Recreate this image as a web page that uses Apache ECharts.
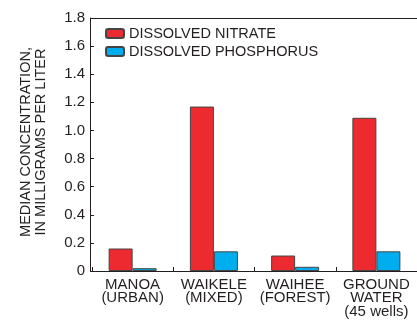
<!DOCTYPE html>
<html><head><meta charset="utf-8">
<script src="https://cdn.jsdelivr.net/npm/echarts@6/dist/echarts.min.js"></script>
<style>html,body{margin:0;padding:0;background:#fff}#c{width:417px;height:320px}</style>
</head><body><div id="c"></div>
<script>
var categories = ['MANOA\n(URBAN)', 'WAIKELE\n(MIXED)', 'WAIHEE\n(FOREST)', 'GROUND\nWATER\n(45 wells)'];
var nitrate = [0.16, 1.17, 0.11, 1.09];
var phosphorus = [0.02, 0.14, 0.03, 0.14];
var seriesNames = ['DISSOLVED NITRATE', 'DISSOLVED PHOSPHORUS'];
var yTicks = [0, 0.2, 0.4, 0.6, 0.8, 1.0, 1.2, 1.4, 1.6, 1.8];

var FONT = '"Liberation Sans", Arial, Helvetica, sans-serif';
var TXT = '#231f20';
var chart = echarts.init(document.getElementById('c'), null, {renderer: 'canvas'});
chart.setOption({
  backgroundColor: '#fff',
  animation: false,
  textStyle: {fontFamily: FONT},
  grid: {left: 92, right: -8, top: 18, bottom: 49},
  legend: {
    orient: 'vertical', left: 105, top: 26, padding: 0,
    itemWidth: 18, itemHeight: 9, itemGap: 3,
    textStyle: {fontFamily: FONT, fontSize: 14.5, color: TXT},
    data: seriesNames
  },
  graphic: [{
    type: 'text',
    x: 33, y: 142,
    rotation: Math.PI / 2,
    style: {
      text: 'MEDIAN CONCENTRATION,\nIN MILLIGRAMS PER LITER',
      font: '14.5px ' + FONT, fill: TXT,
      textAlign: 'center', textVerticalAlign: 'middle', lineHeight: 15
    }
  }],
  xAxis: [{
    type: 'category', data: categories,
    axisLine: {lineStyle: {color: '#231f20', width: 1}},
    axisTick: {show: true, inside: true, length: 4, alignWithLabel: false, lineStyle: {color: '#231f20'}},
    axisLabel: {fontFamily: FONT, fontSize: 15, color: TXT, lineHeight: 13.5, margin: 7, interval: 0},
    splitLine: {show: false}
  }, {
    type: 'category', position: 'top', data: categories,
    axisLine: {show: true, lineStyle: {color: '#231f20', width: 1}},
    axisTick: {show: false}, axisLabel: {show: false}
  }],
  yAxis: {
    type: 'value', min: 0, max: 1.8, interval: 0.2, offset: 2,
    axisLine: {show: true, lineStyle: {color: '#231f20', width: 1}},
    axisTick: {show: true, inside: true, length: 4, lineStyle: {color: '#231f20'}},
    splitLine: {show: false},
    axisLabel: {
      fontFamily: FONT, fontSize: 15, color: TXT, margin: 5,
      formatter: function (v) { return v === 0 ? '0' : v.toFixed(1); }
    }
  },
  series: [{
    name: seriesNames[0], type: 'bar', data: nitrate, barWidth: 24, barGap: '0%',
    itemStyle: {color: '#ec2a2f', borderColor: '#444', borderWidth: 1}
  }, {
    name: seriesNames[1], type: 'bar', data: phosphorus, barWidth: 24, barGap: '0%',
    itemStyle: {color: '#00aeef', borderColor: '#444', borderWidth: 1}
  }]
});
</script></body></html>
